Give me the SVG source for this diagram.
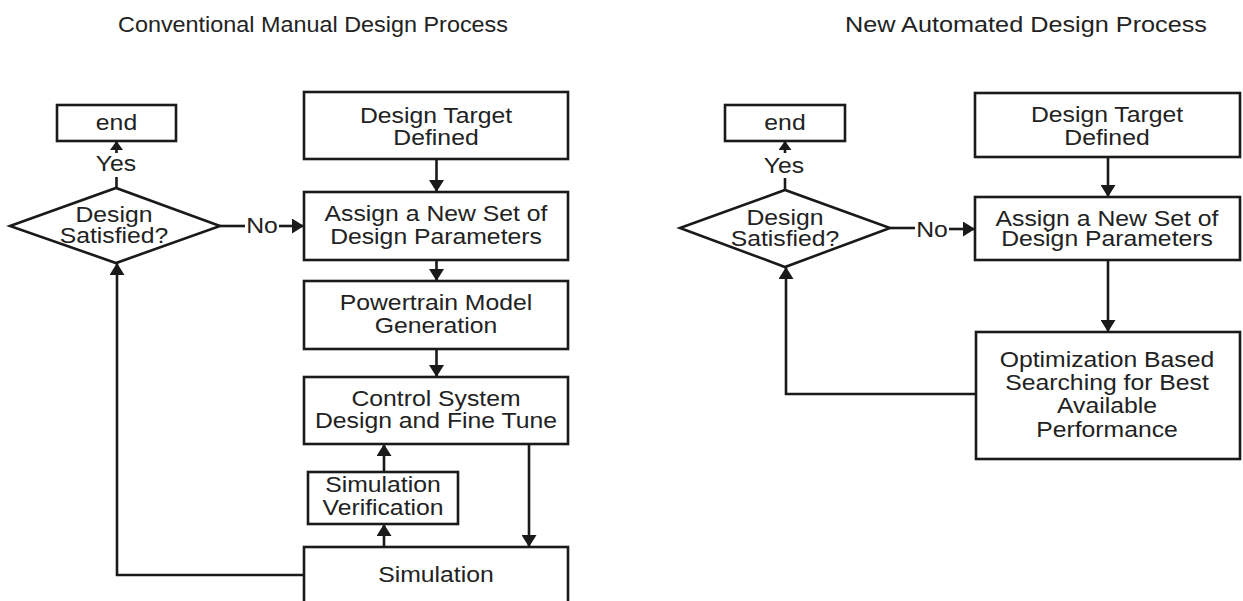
<svg xmlns="http://www.w3.org/2000/svg" width="1243" height="601" viewBox="0 0 1243 601">
<style>
  .box { fill: #ffffff; stroke: #1a1a1a; stroke-width: 2.6; }
  .ln { fill: none; stroke: #1a1a1a; stroke-width: 2.6; }
  .t { font-family: "Liberation Sans", Arial, sans-serif; font-size: 22.5px; fill: #222222; text-anchor: middle; }
  .title { font-family: "Liberation Sans", Arial, sans-serif; font-size: 21.5px; fill: #222222; text-anchor: middle; }
</style>
<defs>
  <marker id="arrow" markerUnits="userSpaceOnUse" markerWidth="13" markerHeight="15" refX="12" refY="7.5" orient="auto">
    <path d="M0,0 L12,7.5 L0,15 z" fill="#1a1a1a"/>
  </marker>
  <marker id="arrowS" markerUnits="userSpaceOnUse" markerWidth="10" markerHeight="13" refX="9" refY="6.5" orient="auto">
    <path d="M0,0 L9,6.5 L0,13 z" fill="#1a1a1a"/>
  </marker>
</defs>
<rect x="0" y="0" width="1243" height="601" fill="#ffffff"/>

<g id="titles">
  <text class="title" x="313" y="32" textLength="390" lengthAdjust="spacingAndGlyphs">Conventional Manual Design Process</text>
  <text class="title" x="1026" y="32" textLength="362" lengthAdjust="spacingAndGlyphs">New Automated Design Process</text>
</g>

<g id="connectors">
  <path class="ln" d="M116.5 188 V177"/>
  <path class="ln" d="M116.5 153 V141" marker-end="url(#arrowS)"/>
  <path class="ln" d="M220 226 H245"/>
  <path class="ln" d="M279 226 H304" marker-end="url(#arrow)"/>
  <path class="ln" d="M436.5 159 V192" marker-end="url(#arrow)"/>
  <path class="ln" d="M436.5 260 V281" marker-end="url(#arrow)"/>
  <path class="ln" d="M436.5 349 V377" marker-end="url(#arrow)"/>
  <path class="ln" d="M384 472 V444" marker-end="url(#arrow)"/>
  <path class="ln" d="M384 547 V524" marker-end="url(#arrow)"/>
  <path class="ln" d="M529 444 V547" marker-end="url(#arrow)"/>
  <path class="ln" d="M304 575 H117 V263" marker-end="url(#arrow)"/>

  <path class="ln" d="M785 190 V178"/>
  <path class="ln" d="M785 153 V141" marker-end="url(#arrowS)"/>
  <path class="ln" d="M890 228 H915"/>
  <path class="ln" d="M949 229 H975" marker-end="url(#arrow)"/>
  <path class="ln" d="M1108 157 V197" marker-end="url(#arrow)"/>
  <path class="ln" d="M1108 260 V332" marker-end="url(#arrow)"/>
  <path class="ln" d="M976 394 H786 V267" marker-end="url(#arrow)"/>

  <g transform="translate(116 0) scale(1.1 1)"><text class="t" x="0" y="171.5">Yes</text></g>
  <g transform="translate(262 0) scale(1.1 1)"><text class="t" x="0" y="233">No</text></g>
  <g transform="translate(784 0) scale(1.1 1)"><text class="t" x="0" y="173">Yes</text></g>
  <g transform="translate(932 0) scale(1.1 1)"><text class="t" x="0" y="237">No</text></g>
</g>

<g id="endL">
  <rect class="box" x="57" y="105" width="119" height="36"/>
  <g transform="translate(116.5 0) scale(1.1 1)"><text class="t" x="0" y="130">end</text></g>
</g>
<g id="decisionL">
  <polygon class="box" points="10,226 116,188 220,226 116,263"/>
  <g transform="translate(114 0) scale(1.1 1)">
    <text class="t" x="0" y="222">Design</text>
    <text class="t" x="0" y="243">Satisfied?</text>
  </g>
</g>
<g id="targetL">
  <rect class="box" x="304" y="92" width="264" height="67"/>
  <g transform="translate(436 0) scale(1.1 1)">
    <text class="t" x="0" y="123">Design Target</text>
    <text class="t" x="0" y="145">Defined</text>
  </g>
</g>
<g id="assignL">
  <rect class="box" x="304" y="192" width="264" height="68"/>
  <g transform="translate(436 0) scale(1.1 1)">
    <text class="t" x="0" y="221">Assign a New Set of</text>
    <text class="t" x="0" y="244">Design Parameters</text>
  </g>
</g>
<g id="powertrainL">
  <rect class="box" x="304" y="281" width="264" height="68"/>
  <g transform="translate(436 0) scale(1.1 1)">
    <text class="t" x="0" y="310">Powertrain Model</text>
    <text class="t" x="0" y="333">Generation</text>
  </g>
</g>
<g id="controlL">
  <rect class="box" x="304" y="377" width="264" height="67"/>
  <g transform="translate(436 0) scale(1.1 1)">
    <text class="t" x="0" y="406">Control System</text>
    <text class="t" x="0" y="428">Design and Fine Tune</text>
  </g>
</g>
<g id="simverL">
  <rect class="box" x="308" y="472" width="150" height="52"/>
  <g transform="translate(383 0) scale(1.1 1)">
    <text class="t" x="0" y="492">Simulation</text>
    <text class="t" x="0" y="515">Verification</text>
  </g>
</g>
<g id="simL">
  <rect class="box" x="304" y="547" width="264" height="60"/>
  <g transform="translate(436 0) scale(1.1 1)">
    <text class="t" x="0" y="582">Simulation</text>
  </g>
</g>

<g id="endR">
  <rect class="box" x="725" y="105" width="120" height="36"/>
  <g transform="translate(785 0) scale(1.1 1)"><text class="t" x="0" y="130">end</text></g>
</g>
<g id="decisionR">
  <polygon class="box" points="680,228 785,190 890,228 785,267"/>
  <g transform="translate(785 0) scale(1.1 1)">
    <text class="t" x="0" y="225">Design</text>
    <text class="t" x="0" y="246">Satisfied?</text>
  </g>
</g>
<g id="targetR">
  <rect class="box" x="975" y="93" width="265" height="64"/>
  <g transform="translate(1107 0) scale(1.1 1)">
    <text class="t" x="0" y="122">Design Target</text>
    <text class="t" x="0" y="145">Defined</text>
  </g>
</g>
<g id="assignR">
  <rect class="box" x="975" y="197" width="265" height="63"/>
  <g transform="translate(1107 0) scale(1.1 1)">
    <text class="t" x="0" y="226">Assign a New Set of</text>
    <text class="t" x="0" y="246">Design Parameters</text>
  </g>
</g>
<g id="optimizeR">
  <rect class="box" x="976" y="332" width="264" height="127"/>
  <g transform="translate(1107 0) scale(1.1 1)">
    <text class="t" x="0" y="367">Optimization Based</text>
    <text class="t" x="0" y="390">Searching for Best</text>
    <text class="t" x="0" y="413">Available</text>
    <text class="t" x="0" y="437">Performance</text>
  </g>
</g>
</svg>
